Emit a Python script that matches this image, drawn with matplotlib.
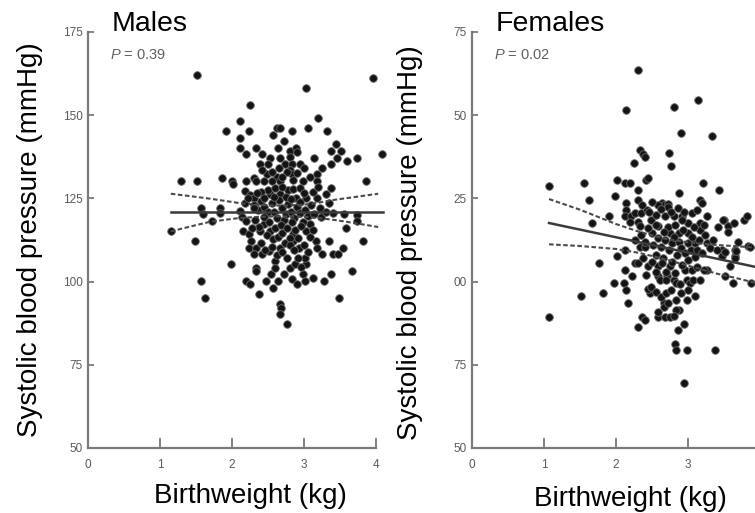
import matplotlib
matplotlib.use("Agg")
import matplotlib.pyplot as plt
import numpy as np

plt.rcParams['font.family'] = ['Liberation Sans', 'DejaVu Sans']
plt.rcParams['mathtext.fontset'] = 'custom'
plt.rcParams['mathtext.it'] = 'Liberation Sans:italic'
plt.rcParams['mathtext.rm'] = 'Liberation Sans'

# ---------------- data ----------------
males_pts = [
    (1.51,162.2),(3.03,158.2),(3.96,161.2),(2.25,153.2),(3.20,149.1),(2.11,148.4),(1.91,145.3),(2.24,145.3),
    (2.62,146.2),(2.66,146.2),(2.84,145.3),(3.06,146.2),(3.32,145.3),(2.11,143.2),(2.57,144.1),(2.72,142.2),
    (2.11,140.2),(2.34,140.2),(2.64,140.2),(2.80,139.2),(2.89,140.2),(2.90,139.0),(3.45,141.2),(3.38,139.2),
    (3.52,139.2),(2.19,138.2),(2.42,138.2),(4.08,138.2),(2.53,137.2),(2.67,137.2),(2.81,137.4),(3.14,137.2),
    (3.46,137.2),(3.60,136.2),(3.74,137.2),(2.39,135.2),(2.50,135.2),(2.74,135.2),(2.84,135.2),(2.94,135.2),
    (3.37,135.2),(3.25,134.2),(2.80,133.5),(3.00,134.0),(3.18,132.2),(2.84,132.2),(2.31,131.2),(2.48,132.2),
    (2.62,131.4),(2.85,130.4),(2.98,130.2),(1.29,130.2),(1.51,130.2),(1.86,131.2),(2.00,130.2),(2.02,129.2),
    (2.20,130.2),(2.34,130.2),(2.44,130.2),(2.55,130.2),(2.67,130.2),(3.18,130.2),(3.86,130.2),(3.37,128.2),
    (2.18,127.2),(2.25,126.0),(2.30,125.0),(2.53,126.2),(2.67,126.2),(2.78,127.5),(3.03,125.2),(3.31,126.2),
    (3.18,125.2),(2.89,125.2),
    (1.57,122.2),(1.60,120.2),(1.83,122.2),(1.83,120.6),(1.72,118.2),(1.15,115.1),(1.48,112.2),(2.11,121.2),
    (2.14,119.4),(2.20,118.2),(2.15,115.2),(2.24,114.2),(2.26,112.2),(2.24,110.2),(2.34,110.2),(2.31,108.2),
    (2.41,108.2),(1.99,105.2),(2.33,104.2),(2.33,103.1),(2.20,100.2),(2.25,99.2),(2.47,100.2),(2.38,96.2),
    (2.57,98.2),(2.64,100.2),(2.54,102.2),(2.60,106.2),(2.60,104.2),(2.52,109.2),(2.67,110.2),(2.67,93.2),
    (2.68,92.2),(2.66,90.2),(2.76,87.2),(2.72,102.2),(2.83,100.9),(2.90,99.2),(2.81,104.2),(2.88,105.2),
    (2.99,102.2),(3.01,100.2),(3.03,105.2),(3.02,107.2),(3.13,101.2),(3.28,100.2),(3.38,102.2),(3.67,103.2),
    (3.48,95.2),(3.40,108.2),(3.47,108.2),(3.35,112.2),(3.54,110.2),(3.82,112.2),(3.58,116.2),(3.73,120.1),
    (3.73,118.2),(3.56,120.2),(3.16,112.2),(3.18,110.2),(3.25,108.2),(2.93,110.2),(2.85,112.2),(2.85,114.2),
    (3.03,115.2),(3.08,117.2),(3.24,119.5),(3.40,120.6),(2.53,115.2),(2.45,117.2),(2.39,115.2),(1.57,100.2),
    (1.62,95.2),
    (2.30,123.0),(2.36,121.5),(2.40,124.2),(2.45,122.3),(2.50,120.8),(2.55,123.5),(2.58,121.0),(2.62,119.2),
    (2.65,124.5),(2.70,122.0),(2.72,118.5),(2.75,120.3),(2.78,123.2),(2.82,121.0),(2.86,119.0),(2.90,122.5),
    (2.94,120.5),(2.98,118.0),(3.02,121.5),(3.06,119.8),(3.10,123.0),(3.14,120.2),(3.22,122.0),(3.30,121.0),
    (3.35,123.5),(2.32,118.5),(2.38,116.5),(2.44,119.5),(2.48,114.0),(2.52,117.8),(2.57,112.8),(2.60,116.0),
    (2.64,113.5),(2.68,117.0),(2.70,114.5),(2.74,111.5),(2.77,116.2),(2.80,113.0),(2.84,117.8),(2.88,115.5),
    (2.92,113.0),(2.96,116.8),(3.00,111.0),(3.08,113.5),(3.12,115.5),(2.28,116.0),(2.40,111.5),(2.46,109.5),
    (2.55,110.5),(2.62,108.0),(2.70,109.0),(2.76,107.0),(2.80,111.0),(2.86,109.5),(2.92,107.0),(2.96,104.5),
    (3.05,109.0),(2.50,127.5),(2.60,128.0),(2.70,128.5),(2.85,127.8),(2.95,128.0),(2.40,127.0),(2.45,125.0),
    (2.35,126.5),(2.58,125.3),(2.75,125.5),(2.82,124.8),(2.95,124.0),(3.00,126.5),(3.12,127.0),(3.20,128.5),
    (2.76,133.0),(2.70,131.5),(2.90,132.5),(2.56,133.0),(2.65,134.0),(2.42,133.5),(3.08,131.5),(2.30,122.0),
    (2.18,123.5),(2.22,125.2),
]

females_pts = [
    (2.31,163.6),(2.14,151.6),(2.80,152.6),(3.14,154.6),(2.90,144.6),(3.34,143.6),(2.34,139.6),(2.38,138.4),
    (2.40,137.4),(2.73,138.6),(2.76,134.6),(2.25,135.6),(2.01,130.6),(2.13,129.6),(2.19,129.6),(2.41,130.4),
    (2.44,131.2),(2.31,127.6),(1.55,129.6),(1.07,128.6),(1.63,124.6),(1.99,125.6),(2.31,124.6),(3.21,129.6),
    (3.43,127.6),(2.88,126.6),(3.17,124.6),(3.19,123.6),(2.64,123.6),(2.66,123.0),(2.72,123.2),(2.14,123.6),
    (1.90,119.6),(2.14,121.6),(1.66,117.6),(2.12,119.6),(2.21,119.6),(2.26,120.6),(2.35,120.6),(2.20,118.0),
    (2.30,118.0),(2.33,116.6),(2.27,112.6),(2.33,110.5),(2.40,110.5),(2.12,109.6),(2.01,107.6),(1.76,105.6),
    (2.27,105.6),(2.31,105.6),(2.13,103.6),(2.22,101.6),(1.97,99.6),(2.11,99.6),(2.14,97.4),(1.82,96.6),
    (1.52,95.6),(2.17,93.6),(1.07,89.4),(2.36,89.4),(2.40,88.4),(2.30,86.4),
    (2.59,123.1),(2.43,121.6),(2.72,122.5),(3.27,119.6),(3.50,118.6),(3.55,116.6),(3.64,117.6),(3.78,118.6),
    (3.82,119.6),(2.91,119.6),(2.80,119.6),(2.68,119.6),(2.59,116.6),(3.00,117.6),(3.00,114.6),(3.17,117.6),
    (3.17,115.6),(2.75,114.6),(2.87,114.6),(2.50,114.6),(3.00,111.6),(3.10,111.6),(3.26,111.6),(3.47,109.6),
    (3.65,109.6),(3.84,110.6),(3.47,107.6),(3.65,107.6),(3.58,104.6),(3.51,101.6),(3.62,99.6),(3.88,99.6),
    (3.26,103.6),(2.96,103.6),(2.75,104.6),(2.59,104.6),(2.45,104.6),(2.59,101.6),(2.71,101.6),(2.61,100.4),
    (2.70,100.4),(2.80,100.4),(2.84,99.6),(2.89,99.4),(2.98,100.4),(3.03,99.6),(3.07,100.4),(3.17,100.4),
    (2.47,96.6),(2.44,97.9),(3.00,97.4),(3.10,95.6),(2.84,94.6),(2.99,94.6),(2.66,93.6),(2.66,92.4),
    (2.87,91.6),(2.84,91.4),(2.59,89.4),(2.68,89.4),(2.75,89.4),(2.80,89.6),(2.94,87.4),(2.86,85.6),
    (2.82,81.4),(2.84,79.4),(2.98,79.4),(3.38,79.4),(2.95,69.4),(3.22,103.4),(3.86,110.4),(3.49,118.6),
    (3.56,115.0),(3.65,107.2),(3.67,109.2),(3.51,108.9),
    (2.35,114.0),(2.40,112.0),(2.45,116.0),(2.48,118.5),(2.52,111.0),(2.55,108.0),(2.58,113.0),(2.62,110.5),
    (2.65,107.0),(2.68,112.5),(2.72,116.5),(2.74,109.5),(2.78,111.5),(2.82,117.0),(2.85,108.0),(2.88,112.0),
    (2.90,110.0),(2.93,115.5),(2.96,108.5),(3.00,106.5),(3.04,109.5),(3.06,113.5),(3.10,107.5),(3.13,109.5),
    (3.15,112.5),(3.20,108.5),(3.24,114.0),(3.30,110.0),(3.35,112.5),(3.40,109.5),(3.42,116.5),(3.70,112.0),
    (2.38,107.0),(2.42,102.0),(2.50,106.0),(2.56,103.0),(2.64,105.5),(2.70,103.0),(2.78,106.0),(2.82,102.5),
    (2.92,105.0),(3.05,103.5),(3.12,104.5),(2.36,123.0),(2.46,121.0),(2.55,120.0),(2.62,121.8),(2.76,121.0),
    (2.86,122.0),(2.95,121.0),(3.05,120.5),(3.12,121.5),(2.50,124.0),(2.56,117.0),(2.66,115.0),(2.80,113.5),
    (2.92,118.5),(3.08,116.5),(3.22,117.0),(2.48,98.5),(2.55,97.0),(2.62,95.5),(2.70,96.5),(2.76,97.5),
    (2.90,96.5),(2.58,91.0),(2.72,93.5),
]

# regression lines (end points) and confidence bands
males_fit_x = [1.15, 4.10]
males_fit_y = [121.0, 121.0]
males_ci_x = [1.15, 1.45, 1.70, 2.10, 2.40, 2.70, 3.00, 3.20, 3.43, 3.70, 4.03]
males_ci_hi = [126.4, 125.6, 124.9, 123.6, 123.0, 122.8, 123.1, 123.7, 124.6, 125.4, 126.4]
males_ci_lo = [115.1, 116.7, 118.0, 119.1, 119.5, 119.6, 119.5, 119.1, 118.5, 117.6, 116.4]

females_fit_x = [1.07, 4.05]
females_fit_y = [117.6, 103.9]
females_ci_x = [1.07, 1.50, 2.00, 2.33, 2.70, 3.00, 3.40, 3.70, 4.05]
females_ci_hi = [124.8, 121.6, 117.3, 114.9, 112.8, 111.8, 111.0, 110.6, 110.0]
females_ci_lo = [111.2, 110.7, 109.8, 108.6, 106.6, 104.8, 102.4, 100.9, 99.0]

x_ticks = [0, 1, 2, 3, 4]
y_ticks = [50, 75, 100, 125, 150, 175]
y_labels_m = ['50', '75', '100', '125', '150', '175']
y_labels_f = ['50', '75', '00', '25', '50', '75']

panels = [
    ("Males", r"$P$ = 0.39", males_pts, males_fit_x, males_fit_y,
     males_ci_x, males_ci_hi, males_ci_lo, y_labels_m),
    ("Females", r"$P$ = 0.02", females_pts, females_fit_x, females_fit_y,
     females_ci_x, females_ci_hi, females_ci_lo, y_labels_f),
]

# ---------------- figure ----------------
W, H = 755, 513
fig = plt.figure(figsize=(W / 100, H / 100), dpi=100)
fig.patch.set_facecolor('white')

ax_lefts = [88, 472]
axes = [fig.add_axes([l / W, 65 / H, 288 / W, 416 / H]) for l in ax_lefts]

spine_c = '#7a7a7a'
tick_c = '#5a5a5a'

for ax, (title, ptxt, pts, fx, fy, cx, chi, clo, ylabs) in zip(axes, panels):
    arr = np.array(pts)
    ax.scatter(arr[:, 0], arr[:, 1], s=30, facecolor='#141414', edgecolors='#6a6a6a',
               linewidths=0.6, zorder=3, clip_on=False)
    ax.plot(fx, fy, color='#3a3a3a', lw=1.8, zorder=4, clip_on=False)
    ax.plot(cx, chi, color='#4a4a4a', lw=1.5, ls=(0, (2.2, 1.2)), zorder=4, clip_on=False)
    ax.plot(cx, clo, color='#4a4a4a', lw=1.5, ls=(0, (2.2, 1.2)), zorder=4, clip_on=False)

    ax.set_xlim(0, 4)
    ax.set_ylim(50, 175)
    ax.set_xticks(x_ticks)
    ax.set_xticklabels([str(t) for t in x_ticks])
    ax.set_yticks(y_ticks)
    ax.set_yticklabels(ylabs)
    for s in ['top', 'right']:
        ax.spines[s].set_visible(False)
    for s in ['left', 'bottom']:
        ax.spines[s].set_color(spine_c)
        ax.spines[s].set_linewidth(1.6)
    ax.tick_params(axis='x', direction='in', length=7, width=1.3, color=spine_c,
                   labelsize=8.5, labelcolor=tick_c, pad=8)
    ax.tick_params(axis='y', direction='in', length=4.5, width=1.3, color=spine_c,
                   labelsize=8.5, labelcolor=tick_c, pad=4)

    ax.text(0.083, 1.003, title, transform=ax.transAxes, fontsize=20.5,
            ha='left', va='baseline', color='black')
    ax.text(0.076, 0.945, ptxt, transform=ax.transAxes, fontsize=10.5,
            ha='left', va='center', color='#606060')

# axis labels as figure text
fig.text(30 / W, 1 - 240 / H, "Systolic blood pressure (mmHg)", rotation=90,
         ha='center', va='center', fontsize=20)
fig.text(410 / W, 1 - 243 / H, "Systolic blood pressure (mmHg)", rotation=90,
         ha='center', va='center', fontsize=20)
fig.text(250 / W, 1 - 496 / H, "Birthweight (kg)", ha='center', va='center', fontsize=20)
fig.text(630 / W, 1 - 499 / H, "Birthweight (kg)", ha='center', va='center', fontsize=20)

fig.savefig('out.png', dpi=100)
